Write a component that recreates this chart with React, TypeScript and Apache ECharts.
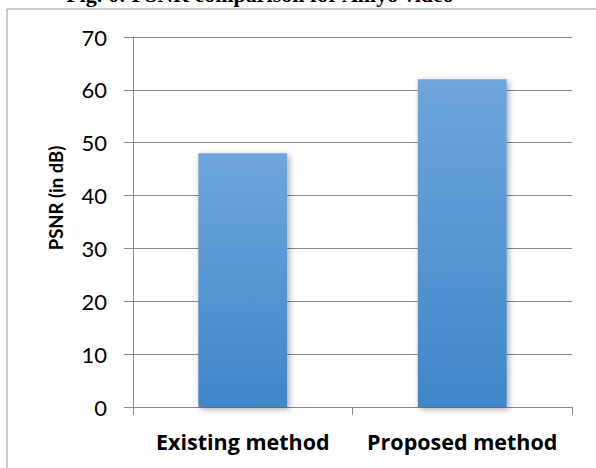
import React, { useEffect, useRef } from "react";
import * as echarts from "echarts";

const categories = ["Existing method", "Proposed method"];
const psnrValues = [48, 62];
const yTicks = [0, 10, 20, 30, 40, 50, 60, 70];
const titleText = "Fig. 6: PSNR comparison for Anlyo video";
const yAxisTitle = "PSNR (in dB)";

export default function App() {
  const ref = useRef<HTMLDivElement>(null);

  useEffect(() => {
    if (!ref.current) return;
    const chart = echarts.init(ref.current, null, { renderer: "svg" });
    const barFill = new echarts.graphic.LinearGradient(0, 0, 0, 1, [
      { offset: 0, color: "#6fa6dc" },
      { offset: 1, color: "#3f86c8" },
    ]);
    chart.setOption({
      animation: false,
      backgroundColor: "#ffffff",
      graphic: [
        {
          type: "rect",
          shape: { x: 7, y: 9, width: 620, height: 500 },
          style: { fill: "none", stroke: "#9a9a9a", lineWidth: 1 },
          silent: true,
        },
        {
          type: "text",
          x: 260,
          y: 5,
          style: {
            text: titleText,
            fontFamily: "Liberation Serif",
            fontWeight: "bold",
            fontSize: 22,
            fill: "#000",
            align: "center",
            verticalAlign: "bottom",
          },
        },
        {
          // y-axis title, placed above the axis midpoint
          type: "text",
          x: 56,
          y: 198,
          rotation: Math.PI / 2,
          style: {
            text: yAxisTitle,
            fontFamily: "Lato",
            fontWeight: "bold",
            fontSize: 18.5,
            fill: "#000",
            align: "center",
            verticalAlign: "middle",
          },
        },
      ],
      grid: { left: 133, right: 24, top: 37, bottom: 61 },
      xAxis: {
        type: "category",
        data: categories,
        boundaryGap: true,
        axisLine: { show: true, lineStyle: { color: "#888", width: 1 } },
        axisTick: { show: true, length: 8, alignWithLabel: false, lineStyle: { color: "#888" } },
        axisLabel: {
          interval: 0,
          hideOverlap: false,
          margin: 23,
          fontFamily: "Open Sans",
          fontWeight: "bold",
          fontSize: 21.5,
          color: "#000",
        },
      },
      yAxis: {
        type: "value",
        min: yTicks[0],
        max: yTicks[yTicks.length - 1],
        interval: 10,
        axisLine: { show: true, lineStyle: { color: "#888", width: 1 } },
        axisTick: { show: true, inside: false, length: 9, lineStyle: { color: "#888" } },
        splitLine: { show: true, lineStyle: { color: "#888", width: 1 } },
        axisLabel: {
          margin: 26,
          fontFamily: "Lato",
          fontSize: 22,
          color: "#000",
        },
      },
      series: [
        {
          type: "bar",
          data: psnrValues,
          barWidth: "40.5%",
          itemStyle: {
            color: barFill,
            shadowBlur: 6,
            shadowColor: "rgba(0,0,0,0.35)",
            shadowOffsetX: 2,
            shadowOffsetY: 2,
          },
        },
      ],
    });
    return () => chart.dispose();
  }, []);

  return <div ref={ref} style={{ width: 596, height: 468, position: "absolute", left: 0, top: 0 }} />;
}
